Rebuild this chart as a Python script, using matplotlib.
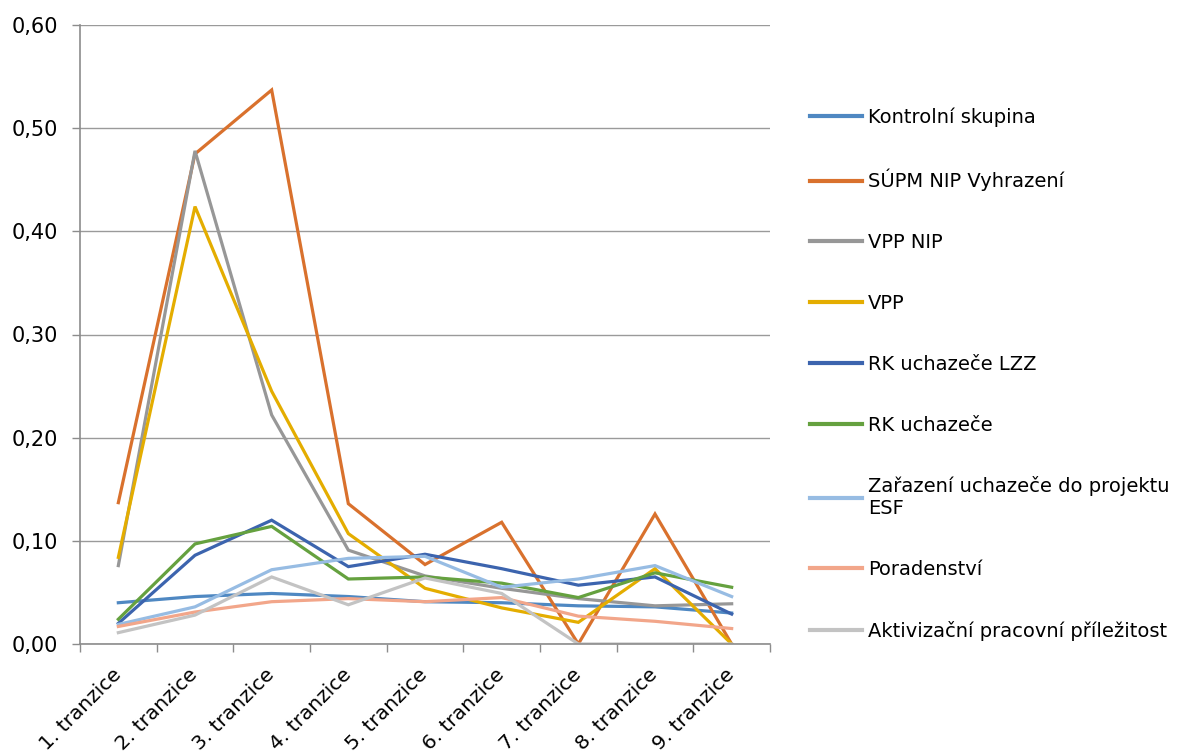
import matplotlib.pyplot as plt
import numpy as np
from matplotlib.ticker import FuncFormatter, FixedLocator

categories = ["1. tranzice", "2. tranzice", "3. tranzice", "4. tranzice", "5. tranzice",
              "6. tranzice", "7. tranzice", "8. tranzice", "9. tranzice"]

kontrolni = [0.040, 0.046, 0.049, 0.046, 0.041, 0.040, 0.037, 0.036, 0.030]
supm_nip = [0.137, 0.475, 0.537, 0.136, 0.077, 0.118, 0.000, 0.126, 0.000]
vpp_nip = [0.076, 0.478, 0.222, 0.091, 0.066, 0.054, 0.044, 0.037, 0.039]
vpp = [0.084, 0.424, 0.245, 0.107, 0.054, 0.035, 0.021, 0.073, 0.000]
rk_lzz = [0.020, 0.086, 0.120, 0.075, 0.087, 0.073, 0.057, 0.065, 0.029]
rk = [0.024, 0.097, 0.114, 0.063, 0.065, 0.059, 0.045, 0.069, 0.055]
esf = [0.019, 0.036, 0.072, 0.083, 0.085, 0.055, 0.063, 0.076, 0.046]
poradenstvi = [0.017, 0.031, 0.041, 0.044, 0.041, 0.045, 0.027, 0.022, 0.015]
app = [0.011, 0.028, 0.065, 0.038, 0.064, 0.049, 0.000, 0.000, 0.000]

series = [
    ("Kontrolní skupina", kontrolni, "#4F88C2"),
    ("SÚPM NIP Vyhrazení", supm_nip, "#D9712D"),
    ("VPP NIP", vpp_nip, "#979797"),
    ("VPP", vpp, "#E4AD00"),
    ("RK uchazeče LZZ", rk_lzz, "#3C64AE"),
    ("RK uchazeče", rk, "#65A13F"),
    ("Zařazení uchazeče do projektu\nESF", esf, "#97BCE3"),
    ("Poradenství", poradenstvi, "#F2A68A"),
    ("Aktivizační pracovní příležitost", app, "#C3C3C3"),
]

plt.rcParams["font.family"] = ["DejaVu Sans"]
fig = plt.figure(figsize=(11.8, 7.53), dpi=100)
ax = fig.add_axes([80 / 1180, 1 - 644 / 753, 690 / 1180, 619 / 753])

x = np.arange(len(categories))
for name, vals, col in series:
    ax.plot(x, vals, color=col, lw=2.3, label=name, solid_joinstyle="miter")

ax.set_xlim(-0.5, len(categories) - 0.5)
ax.set_ylim(0, 0.6)
ax.set_yticks(np.arange(0, 0.61, 0.1))
ax.yaxis.set_major_formatter(FuncFormatter(lambda v, p: f"{v:.2f}".replace(".", ",")))
ax.grid(axis="y", color="#9A9A9A", lw=1)
ax.set_axisbelow(True)

ax.set_xticks(x)
ax.set_xticklabels(categories, rotation=45, ha="right", va="center", rotation_mode="anchor")
ax.xaxis.set_minor_locator(FixedLocator(np.arange(-0.5, len(categories), 1)))
ax.tick_params(axis="x", which="major", length=0, labelsize=14.5, pad=20)
ax.tick_params(axis="x", which="minor", length=6, color="#8C8C8C", width=1)
ax.tick_params(axis="y", length=6, color="#8C8C8C", width=1, labelsize=15, pad=10)

for s in ["top", "right"]:
    ax.spines[s].set_visible(False)
for s in ["left", "bottom"]:
    ax.spines[s].set_color("#8C8C8C")
    ax.spines[s].set_linewidth(1.2)

leg = ax.legend(loc="upper left", bbox_to_anchor=(792 / 1180, 1 - 90 / 753),
                bbox_transform=fig.transFigure, frameon=False, fontsize=14,
                handlelength=2.7, handletextpad=0.3, labelspacing=2.15)
for line in leg.get_lines():
    line.set_linewidth(3)

fig.savefig("out.png", dpi=100)
